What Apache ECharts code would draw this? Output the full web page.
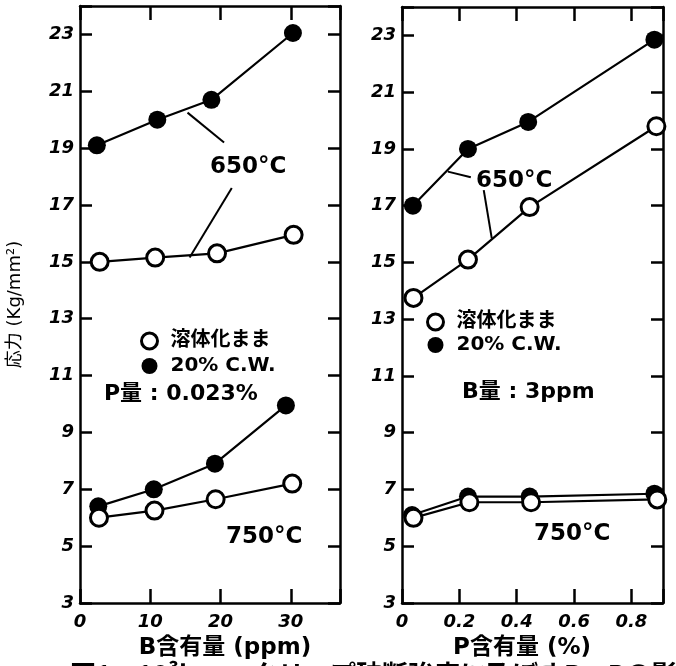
<!DOCTYPE html>
<html><head><meta charset="utf-8">
<script src="https://cdn.jsdelivr.net/npm/echarts@6/dist/echarts.min.js"></script>
<style>html,body{margin:0;padding:0;background:#fff}#c{width:676px;height:666px}</style>
</head><body><div id="c"></div>
<script>
// ---- data ----
const seriesNames = ['溶体化まま', '20% C.W.'];
// Left panel: B content (ppm), P = 0.023%
const leftCW650 = [[2.4,19.1],[11.0,20.0],[18.7,20.7],[30.3,23.05]];
const leftST650 = [[2.8,15.0],[10.7,15.15],[19.5,15.3],[30.4,15.95]];
const leftCW750 = [[2.6,6.4],[10.5,7.0],[19.2,7.9],[29.3,9.95]];
const leftST750 = [[2.7,6.0],[10.6,6.25],[19.3,6.65],[30.2,7.2]];
// Right panel: P content (%), B = 3ppm
const rightCW650 = [[0.038,17.0],[0.23,19.0],[0.44,19.95],[0.88,22.85]];
const rightST650 = [[0.04,13.75],[0.23,15.1],[0.445,16.95],[0.887,19.8]];
const rightCW750 = [[0.035,6.1],[0.23,6.75],[0.445,6.75],[0.88,6.85]];
const rightST750 = [[0.04,6.0],[0.235,6.55],[0.45,6.55],[0.89,6.65]];
// annotation arrows (data coords)
const leftArrows = [[[20.5,19.2],[15.3,20.25]], [[21.6,17.6],[15.6,15.15]]];
const rightArrows = [[[0.24,18.0],[0.16,18.2]], [[0.285,17.55],[0.313,15.85]]];

const chart = echarts.init(document.getElementById('c'));
const F = '"DejaVu Sans", sans-serif';
const CJK = '"Noto Sans CJK JP", sans-serif';
const MIX = '"DejaVu Sans", "Noto Sans CJK JP", sans-serif';
const lbl = {fontFamily: F, fontWeight: 'bold', fontStyle: 'italic', fontSize: 18, color: '#000'};

function xAx(grid, min, max, iv, pos, show, fmt) {
  return {type: 'value', gridIndex: grid, min, max, interval: iv, position: pos,
    axisLine: {show: true, onZero: false, lineStyle: {color: '#000', width: 2.5}},
    axisTick: {show: true, inside: true, length: 14, lineStyle: {color: '#000', width: 2.5}},
    splitLine: {show: false},
    axisLabel: Object.assign({show, margin: 10, formatter: fmt}, lbl)};
}
function yAx(grid, pos, show, name) {
  return {type: 'value', gridIndex: grid, min: 3, max: 24, interval: 2, position: pos,
    axisLine: {show: true, onZero: false, lineStyle: {color: '#000', width: 2.5}},
    axisTick: {show: true, inside: true, length: 12, lineStyle: {color: '#000', width: 2.5}},
    splitLine: {show: false},
    axisLabel: Object.assign({show, margin: 6, formatter: v => (v % 2 === 1 ? String(v) : '')}, lbl),
    name: name || '', nameLocation: 'middle', nameRotate: 90, nameGap: 56,
    nameTextStyle: {fontFamily: MIX, fontSize: 18, color: '#000'}};
}
const fmtB = v => (v % 10 === 0 ? String(v) : '');
const fmtP = v => { const r = Math.round(v * 10) / 10; return Math.abs(v - r) < 1e-6 && Math.round(r*10) % 2 === 0 ? (r === 0 ? '0' : r.toFixed(1)) : ''; };

function ser(name, data, x, y, filled, arrows) {
  const s = {name, type: 'line', xAxisIndex: x, yAxisIndex: y, data,
    symbol: 'circle', symbolSize: filled ? 18 : 17, z: filled ? 2 : 3,
    lineStyle: {color: '#000', width: 2.2},
    itemStyle: filled ? {color: '#000', borderColor: '#000', borderWidth: 0}
                      : {color: '#fff', borderColor: '#000', borderWidth: 3},
    animation: false, silent: true};
  if (arrows) {
    s.markLine = {silent: true, symbol: ['none', 'arrow'], symbolSize: [0, 12], label: {show: false},
      lineStyle: {color: '#000', width: 2, type: 'solid'},
      data: arrows.map(a => [{coord: a[0]}, {coord: a[1]}])};
  }
  return s;
}

const txt = (x, y, s, size, fam, align) => ({type: 'text', left: align === 'center' ? undefined : x, top: y,
  x: align === 'center' ? x : undefined,
  style: {text: s, font: `bold ${size}px ${fam || F}`, fill: '#000', textAlign: align || 'left'}});

const legendData = [
  {name: seriesNames[0], icon: 'circle', itemStyle: {color: '#fff', borderColor: '#000', borderWidth: 3}},
  {name: seriesNames[1], icon: 'circle', itemStyle: {color: '#000', borderWidth: 0}}
];
const legendText = {fontFamily: MIX, fontWeight: 'bold', fontSize: 20, color: '#000', padding: [0, 0, 0, 8]};

chart.setOption({
  animation: false,
  backgroundColor: '#fff',
  grid: [
    {left: 80, top: 6, width: 260, height: 597},
    {left: 402, top: 7, width: 261, height: 596}
  ],
  xAxis: [
    xAx(0, 0, 37, 10, 'bottom', true, fmtB),
    xAx(0, 0, 37, 10, 'top', false, fmtB),
    xAx(1, 0, 0.91, 0.2, 'bottom', true, fmtP),
    xAx(1, 0, 0.91, 0.2, 'top', false, fmtP)
  ],
  yAxis: [
    yAx(0, 'left', true, '応力 (Kg/mm²)'),
    yAx(0, 'right', false),
    yAx(1, 'left', true),
    yAx(1, 'right', false)
  ],
  legend: [
    {left: 135, top: 326, orient: 'vertical', itemGap: 5, itemWidth: 16, itemHeight: 16,
     data: legendData, textStyle: legendText},
    {left: 421, top: 307, orient: 'vertical', itemGap: 3, itemWidth: 16, itemHeight: 16,
     data: legendData, textStyle: legendText}
  ],
  series: [
    ser(seriesNames[1], leftCW650, 0, 0, true, leftArrows),
    ser(seriesNames[0], leftST650, 0, 0, false),
    ser(seriesNames[1], leftCW750, 0, 0, true),
    ser(seriesNames[0], leftST750, 0, 0, false),
    ser(seriesNames[1], rightCW650, 2, 2, true, rightArrows),
    ser(seriesNames[0], rightST650, 2, 2, false),
    ser(seriesNames[1], rightCW750, 2, 2, true),
    ser(seriesNames[0], rightST750, 2, 2, false)
  ],
  graphic: [
    txt(210, 156, '650°C', 23),
    txt(476, 170, '650°C', 23),
    txt(226, 526, '750°C', 23),
    txt(534, 523, '750°C', 23),
    txt(104, 383, 'P量 : 0.023%', 22, MIX),
    txt(462, 381, 'B量 : 3ppm', 22, MIX),
    txt(225, 637, 'B含有量 (ppm)', 23, MIX, 'center'),
    txt(522, 637, 'P含有量 (%)', 23, MIX, 'center'),
    txt(70, 661, '図1　10³h', 26, CJK),
    txt(252, 661, 'クリープ破断強度に及ぼすB，Pの影響', 26, CJK)
  ]
});
</script></body></html>
